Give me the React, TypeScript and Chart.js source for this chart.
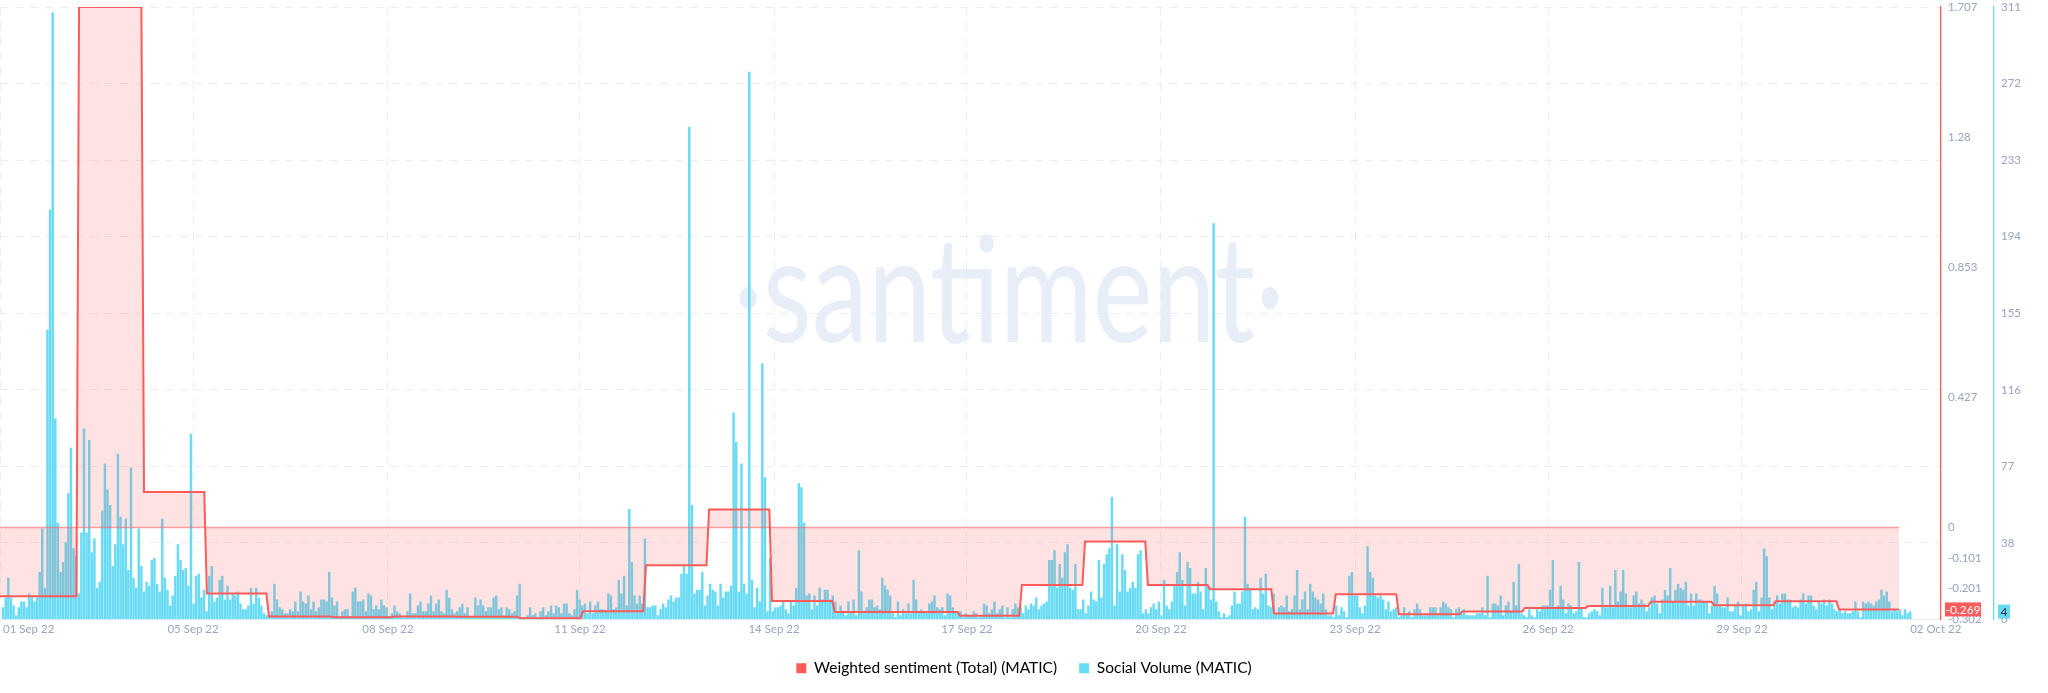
import React, { useEffect, useRef } from "react";
import { Chart, registerables } from "chart.js";

Chart.register(...registerables);

const xTickHours = [0, 11, 74, 148.7, 222.3, 296.7, 370.6, 445, 519.4, 593.4, 667.7, 742];
const xTickLabels = ["", "01 Sep 22", "05 Sep 22", "08 Sep 22", "11 Sep 22", "14 Sep 22", "17 Sep 22", "20 Sep 22", "23 Sep 22", "26 Sep 22", "29 Sep 22", "02 Oct 22"];
const sentimentTicks = [1.707, 1.28, 0.853, 0.427, 0, -0.101, -0.201, -0.302];
const volumeTicks = [0, 38.875, 77.75, 116.625, 155.5, 194.375, 233.25, 272.125, 311];

const sentimentStartHours = [0, 30.3, 55.2, 79.3, 103.1, 127.6, 151, 174.8, 199.3, 223.5, 247.6, 271.8, 295.9, 320, 343.8, 368, 391.7, 415.9, 440, 463.8, 488.3, 512, 536.2, 560.4, 584.5, 608.7, 632.8, 657, 680.7, 704.9];
const sentimentValues = [-0.226, 1.707, 0.116, -0.217, -0.292, -0.295, -0.292, -0.293, -0.298, -0.275, -0.124, 0.059, -0.241, -0.277, -0.277, -0.29, -0.189, -0.046, -0.189, -0.203, -0.282, -0.219, -0.285, -0.276, -0.264, -0.258, -0.244, -0.255, -0.242, -0.269];
const sentimentEndHour = 727.9;

const volumeValues = [
  6,11,21,11,7,2,6,9,9,6,13,11,9,11,24,46,16,
  147,208,308,102,49,24,29,39,64,87,36,32,13,44,
  97,44,91,34,41,16,19,55,79,66,58,27,38,84,52,38,51,25,77,21,16,46,27,14,19,17,30,31,18,14,51,21,15,7,12,22,38,30,25,26,17,94,8,22,23,11,15,4,22,27,9,11,20,22,10,17,10,13,12,14,8,5,5,7,16,8,16,11,7,3,2,
  2,4,18,10,6,5,3,3,5,4,9,4,14,9,8,12,5,9,4,6,10,10,9,24,11,7,9,1,4,5,5,1,14,16,9,9,10,4,13,12,5,7,5,10,7,6,1,3,7,4,3,1,1,4,13,3,3,7,9,4,4,8,12,4,8,10,4,3,15,11,5,3,4,6,8,3,6,1,1,11,7,
  10,7,4,6,6,11,12,5,6,2,6,5,3,4,12,18,1,0,2,6,2,3,1,4,6,2,4,7,3,7,6,3,8,8,3,2,5,15,10,7,8,3,9,3,7,9,5,5,4,13,12,5,6,20,13,22,7,56,29,12,8,12,8,41,6,6,7,7,2,5,8,6,10,12,9,11,11,23,27,23,250,58,13,15,15,24,7,12,18,15,14,7,18,11,14,14,17,105,90,14,79,18,13,278,20,6,16,9,130,72,4,31,4,6,6,7,9,5,3,9,7,16,69,67,49,12,13,5,12,7,16,10,15,15,10,12,9,3,7,4,2,9,4,10,2,35,14,3,6,10,10,6,7,5,21,17,15,12,3,1,9,2,5,3,8,3,20,10,4,5,4,4,8,9,12,6,5,6,2,13,12,6,4,
  4,4,1,3,2,2,4,3,1,2,8,7,3,5,9,3,5,7,1,6,1,5,8,6,6,3,7,5,8,7,11,5,7,8,9,30,30,35,16,28,21,34,38,16,15,28,5,5,10,3,7,14,10,9,30,11,28,33,36,62,7,38,14,33,25,14,16,19,16,33,35,3,5,3,6,8,5,9,2,20,7,5,9,17,24,34,20,7,29,26,13,13,19,14,5,26,17,10,201,9,4,1,3,1,2,7,14,8,8,14,52,18,16,5,6,5,21,13,23,7,6,13,3,6,7,6,12,4,5,12,25,5,10,14,5,18,14,11,10,8,13,5,2,2,1,7,2,6,4,1,22,24,12,12,6,3,7,37,24,21,12,11,12,10,5,9,4,5,6,1,2,6,3,4,1,5,8,5,2,2,2,6,6,6,3,
  6,9,8,6,5,1,5,6,3,5,2,2,2,2,3,3,6,2,22,1,8,8,7,12,2,7,9,4,19,7,28,3,2,1,5,2,1,5,4,7,7,7,15,30,6,7,17,10,3,8,7,3,4,29,6,1,1,3,4,5,4,2,16,6,6,17,6,25,9,14,25,13,6,6,12,14,8,10,8,4,6,11,12,8,3,10,15,12,26,9,15,18,16,15,19,7,13,7,13,10,10,9,9,3,7,17,13,7,6,6,11,4,4,7,9,2,7,8,4,5,15,19,4,11,36,32,11,5,9,12,8,13,13,10,10,6,7,6,10,13,8,12,12,7,5,9,8,10,7,10,8,5,4,5,3,4,3,3,4,9,4,1,9,8,9,8,7,9,10,15,12,14,9,4,5,4,5,2,5,3,4,
];

const SENT_NAME = "Weighted sentiment (Total) (MATIC)";
const VOL_NAME = "Social Volume (MATIC)";
const RED = "#ff5b5b";
const CYAN = "#68dbf4";
const TICK = "#98a5bf";
const GRID = "#e9eef5";
const FONT = "Lato, sans-serif";

const sentimentPoints = sentimentValues.flatMap((y, k) => {
  const end = k + 1 < sentimentStartHours.length ? sentimentStartHours[k + 1] - 1 : sentimentEndHour;
  return [{ x: sentimentStartHours[k], y }, { x: end, y }];
});
const zeroPoints = [{ x: 0, y: 0 }, { x: sentimentEndHour, y: 0 }];
const volumePoints = volumeValues.map((y, i) => ({ x: i + 1.2, y }));

const noPad = (s: any) => {
  s.paddingTop = 0;
  s.paddingBottom = 0;
  s.paddingLeft = 0;
  s.paddingRight = 0;
};

const watermark = {
  id: "watermark",
  beforeDatasetsDraw(chart: any) {
    const { ctx } = chart;
    ctx.save();
    ctx.fillStyle = "#e7eef7";
    ctx.font = "400 113px Lato, sans-serif";
    ctx.textAlign = "center";
    ctx.textBaseline = "alphabetic";
    ctx.translate(1009, 342);
    ctx.scale(1, 1.3);
    ctx.fillText("·santiment·", 0, 0);
    ctx.restore();
  },
};

const pills = {
  id: "pills",
  afterDraw(chart: any) {
    const { ctx, scales } = chart;
    const lastSent = sentimentValues[sentimentValues.length - 1];
    const lastVol = volumeValues[volumeValues.length - 1];
    ctx.save();
    ctx.textBaseline = "middle";
    ctx.textAlign = "center";
    ctx.font = "12px " + FONT;
    const ys = scales.sent.getPixelForValue(lastSent);
    ctx.fillStyle = RED;
    ctx.fillRect(1945, ys - 7, 36, 14);
    ctx.fillStyle = "#ffffff";
    ctx.fillText(String(lastSent), 1963, ys + 0.5);
    const yv = scales.vol.getPixelForValue(lastVol);
    ctx.fillStyle = CYAN;
    ctx.fillRect(1998, yv - 7, 12, 14);
    ctx.fillStyle = "#2f3552";
    ctx.fillText(String(lastVol), 2004, yv + 0.5);
    ctx.restore();
  },
};

export default function App() {
  const ref = useRef<HTMLCanvasElement>(null);
  useEffect(() => {
    const chart = new Chart(ref.current as HTMLCanvasElement, {
      type: "bar",
      data: {
        datasets: [
          {
            type: "line",
            label: SENT_NAME,
            data: sentimentPoints,
            yAxisID: "sent",
            borderColor: RED,
            borderWidth: 2,
            pointRadius: 0,
            tension: 0,
            backgroundColor: "rgba(255,91,91,0.17)",
            fill: { target: { value: 0 }, above: "rgba(255,91,91,0.17)", below: "rgba(255,91,91,0.17)" },
            order: 0,
          },
          {
            type: "line",
            label: "zero",
            data: zeroPoints,
            yAxisID: "sent",
            borderColor: "rgba(255,91,91,0.55)",
            borderWidth: 1.5,
            pointRadius: 0,
            fill: false,
            order: 1,
          },
          {
            type: "bar",
            label: VOL_NAME,
            data: volumePoints,
            yAxisID: "vol",
            backgroundColor: CYAN,
            barThickness: 1.8,
            order: 2,
          },
        ] as any,
      },
      options: {
        responsive: false,
        animation: false,
        devicePixelRatio: 1,
        layout: { padding: { top: 7, bottom: 7, left: 0, right: 0 } },
        plugins: {
          tooltip: { enabled: false },
          legend: {
            position: "bottom",
            labels: {
              boxWidth: 10,
              boxHeight: 10,
              padding: 22,
              color: "#2f3552",
              font: { family: FONT, size: 15.5 },
              generateLabels: () => [
                { text: SENT_NAME, fillStyle: RED, strokeStyle: RED, lineWidth: 0, datasetIndex: 0 },
                { text: VOL_NAME, fillStyle: CYAN, strokeStyle: CYAN, lineWidth: 0, datasetIndex: 2 },
              ],
            },
          },
        },
        scales: {
          x: {
            type: "linear",
            offset: false,
            min: 0,
            max: 744,
            afterBuildTicks: (s: any) => { s.ticks = xTickHours.map((value) => ({ value })); },
            afterFit: (s: any) => { s.height = 19; noPad(s); },
            ticks: {
              autoSkip: false,
              maxRotation: 0,
              padding: 3,
              color: TICK,
              font: { family: FONT, size: 11.5 },
              callback: (_v: any, i: number) => xTickLabels[i],
            },
            grid: {
              offset: false,
              drawTicks: false,
              color: (c: any) => {
                const idx = xTickHours.indexOf(c.tick?.value);
                return idx === 1 || idx === xTickHours.length - 1 ? "rgba(0,0,0,0)" : GRID;
              },
            },
            border: { display: true, color: GRID, dash: [8, 7] },
          },
          sent: {
            type: "linear",
            position: "right",
            weight: 0,
            min: -0.302,
            max: 1.707,
            afterBuildTicks: (s: any) => { s.ticks = sentimentTicks.map((value) => ({ value })); },
            afterFit: (s: any) => { s.width = 53; noPad(s); },
            ticks: {
              padding: 7,
              color: TICK,
              font: { family: FONT, size: 11.5 },
              callback: (v: any) => String(v),
            },
            grid: { display: false, drawTicks: false },
            border: { display: true, color: RED, width: 1.3 },
          },
          vol: {
            type: "linear",
            position: "right",
            weight: 1,
            min: 0,
            max: 311,
            afterBuildTicks: (s: any) => { s.ticks = volumeTicks.map((value) => ({ value })); },
            afterFit: (s: any) => { s.width = 54; noPad(s); },
            ticks: {
              padding: 7,
              color: TICK,
              font: { family: FONT, size: 11.5 },
              callback: (v: any) => String(Math.floor(v)),
            },
            grid: { color: GRID, drawTicks: false },
            border: { display: true, color: CYAN, width: 1.3, dash: [8, 7] },
          },
        },
      } as any,
      plugins: [watermark, pills],
    });
    return () => chart.destroy();
  }, []);
  return (
    <div style={{ position: "absolute", left: 0, top: 0, width: 2048, height: 693, background: "#fff" }}>
      <canvas ref={ref} width={2048} height={693} style={{ display: "block" }} />
    </div>
  );
}
